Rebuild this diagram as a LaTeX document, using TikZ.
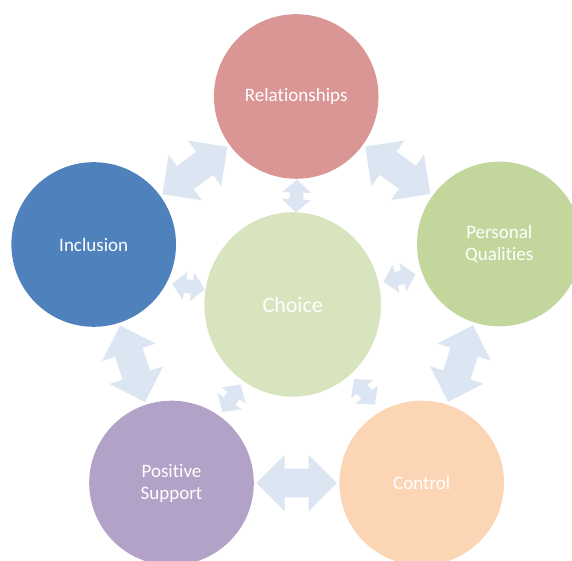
\documentclass[tikz,border=0pt]{standalone}
\usepackage{fontspec}
\setmainfont{Carlito}[Ligatures=NoCommon]
\usetikzlibrary{shapes.geometric,shapes.arrows,calc}
\definecolor{relc}{HTML}{D99694}
\definecolor{inclc}{HTML}{4F81BD}
\definecolor{pqc}{HTML}{C3D69B}
\definecolor{ctrlc}{HTML}{FCD5B5}
\definecolor{psc}{HTML}{B3A2C7}
\definecolor{choicec}{HTML}{D7E4BD}
\definecolor{arrowc}{HTML}{DCE6F2}
\begin{document}
\begin{tikzpicture}[x=1pt,y=1pt,
  outer/.style={circle, minimum size=164.6pt, inner sep=0pt, outer sep=0pt, draw=none,
    text=white, font=\fontsize{19}{22}\selectfont, align=center},
  centre/.style={ellipse, minimum width=176.6pt, minimum height=184.4pt, inner sep=0pt,
    outer sep=0pt, draw=none, text=white, font=\fontsize{22}{26}\selectfont},
  bigarrow/.style={double arrow, fill=arrowc, draw=none, inner xsep=0pt, inner ysep=14.15pt,
    outer sep=0pt, minimum height=80.4pt, minimum width=56pt, double arrow head extend=13.85pt,
    double arrow tip angle=90},
  smallarrow/.style={double arrow, fill=arrowc, draw=none, inner xsep=0pt, inner ysep=6.75pt,
    outer sep=0pt, minimum height=33pt, minimum width=28.5pt, double arrow head extend=7.5pt,
    double arrow tip angle=96}]
\useasboundingbox (0,0) rectangle (572,561);
\fill[white] (0,0) rectangle (572,561);
% circles
\node[outer, fill=relc]  (rel)  at (296.2,464.5) {Relationships};
\node[outer, fill=inclc] (incl) at (93.7,316.5) {Inclusion};
\node[outer, fill=pqc]   (pq)   at (499.3,317) {Personal\\Qualities};
\node[outer, fill=ctrlc] (ctrl) at (421.7,78) {Control};
\node[outer, fill=psc]   (ps)   at (171.5,78) {Positive\\Support};
\node[centre, fill=choicec] (choice) at (292.7,256.5) {Choice};
% big arrows between outer circles
\path (incl) -- (rel)  node[midway, sloped, bigarrow] (b1) {};
\path (rel)  -- (pq)   node[midway, sloped, bigarrow] (b2) {};
\path (pq)   -- (ctrl) node[midway, sloped, bigarrow] (b3) {};
\path (ctrl) -- (ps)   node[midway, sloped, bigarrow] (b4) {};
\path (ps)   -- (incl) node[midway, sloped, bigarrow] (b5) {};
% small arrows around the centre
\node[smallarrow, rotate=88]    (s1) at ($(choice.center)+(88:108.6)$) {};
\node[smallarrow, rotate=170.2] (s2) at ($(choice.center)+(170.2:105.7)$) {};
\node[smallarrow, rotate=13.9]  (s3) at ($(choice.center)+(13.9:110)$) {};
\node[smallarrow, rotate=236.9] (s4) at ($(choice.center)+(236.9:112)$) {};
\node[smallarrow, rotate=309.4] (s5) at ($(choice.center)+(309.4:113)$) {};
\end{tikzpicture}
\end{document}
